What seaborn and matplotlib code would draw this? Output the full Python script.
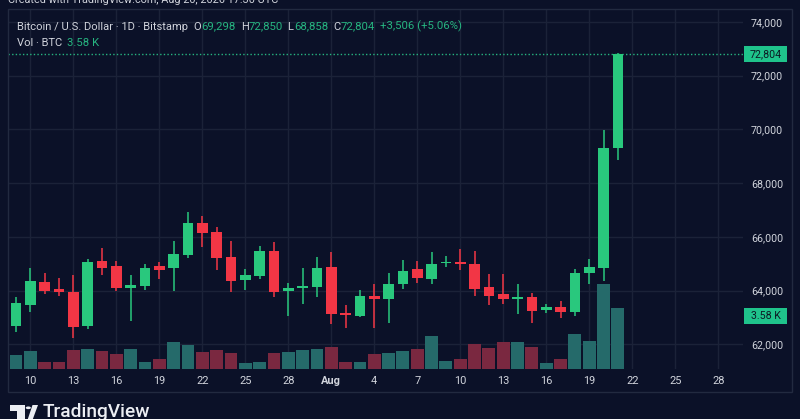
import numpy as np
import pandas as pd
import matplotlib
matplotlib.use("Agg")
import matplotlib.pyplot as plt
import matplotlib.transforms as mtransforms
from matplotlib.patches import Rectangle, Polygon, Circle
import seaborn as sns

# ---------------- data ----------------
opens = [62686, 63479, 64335, 64052, 63963, 62698, 65105, 64908, 64089, 64186,
         64908, 64845, 65328, 66530, 66184, 65243, 64391, 64547, 65488, 63978,
         64089, 64149, 64882, 63181, 63070, 63814, 63702, 64238, 64807, 64447,
         65020, 65068, 64994, 64127, 63877, 63691, 63754, 63293, 63393, 63207,
         64647, 64834, 69298]
highs = [63777, 64833, 64647, 64461, 64584, 65180, 65578, 65105, 64573, 64982,
         65079, 65849, 66917, 66780, 66381, 65861, 64815, 65663, 65801, 64298,
         64833, 65243, 65451, 63457, 64026, 64260, 64647, 65131, 65105, 65440,
         65280, 65540, 65466, 64633, 64633, 64249, 63926, 63494, 63628, 64796,
         65180, 69980, 72850]
lows = [62463, 63219, 63866, 63814, 62229, 62575, 64595, 63978, 62884, 64026,
        64447, 64000, 65217, 65615, 64759, 63940, 64011, 64435, 63766, 63047,
        63494, 63777, 62750, 62623, 63033, 62623, 62809, 64052, 64298, 64249,
        64882, 64759, 63814, 63468, 63505, 63133, 62809, 63170, 62995, 63059,
        64249, 64361, 68858]
closes = [63531, 64361, 64000, 63952, 62660, 65057, 64845, 64089, 64201, 64856,
          64781, 65366, 66530, 66158, 65206, 64361, 64573, 65477, 63940, 64112,
          64175, 64845, 63122, 63085, 63803, 63702, 64238, 64733, 64473, 65005,
          65068, 64982, 64074, 63803, 63691, 63754, 63233, 63382, 63207, 64670,
          64893, 69298, 72804]
volumes_k = [0.82, 1.00, 0.39, 0.39, 1.06, 1.15, 1.03, 0.86, 1.17, 0.37,
             0.53, 1.56, 1.37, 0.97, 1.07, 0.90, 0.35, 0.39, 0.90, 0.94,
             1.06, 1.15, 1.25, 0.39, 0.41, 0.86, 0.90, 1.02, 1.13, 1.90,
             0.45, 0.53, 1.41, 1.23, 1.58, 1.58, 1.25, 0.35, 0.56, 2.05,
             1.62, 4.95, 3.58]
date_tick_labels = ["10", "13", "16", "19", "22", "25", "28", "Aug", "4", "7",
                    "10", "13", "16", "19", "22", "25", "28"]
price_ticks = [62000, 64000, 66000, 68000, 70000, 72000, 74000]

header_title = "Bitcoin / U.S. Dollar · 1D · Bitstamp"
last_change = 3506
last_change_pct = 5.06
created_text = "Created with TradingView.com, Aug 20, 2026 17:30 UTC"

# ---------------- style ----------------
BG = "#0b1128"
GRID = "#1b2238"
FRAME = "#222a40"
TXT = "#d1d4dc"
UP = "#29c87d"
DOWN = "#f23645"
UP_VOL = "#256a6a"
DOWN_VOL = "#7a2840"
HDR_GREEN = "#26b480"
BADGE = "#1fc38b"

sns.set_theme(style="dark", rc={"axes.facecolor": BG, "figure.facecolor": BG})
plt.rcParams["font.family"] = ["Roboto", "DejaVu Sans"]

W, H = 800, 419
fig = plt.figure(figsize=(W / 100, H / 100), dpi=100)
fig.patch.set_facecolor(BG)

def fx(x):
    return x / W

def fy(y):
    return 1 - y / H

ax_l, ax_r, ax_t, ax_b = 8, 743, 9.3, 368.5
rect = [fx(ax_l), fy(ax_b), (ax_r - ax_l) / W, (ax_b - ax_t) / H]
ax = fig.add_axes(rect)
ax_v = fig.add_axes(rect)
ax.set_zorder(1)
ax_v.set_zorder(2)
ax_v.patch.set_visible(False)

n = len(opens)
idx = np.arange(n)
o = np.array(opens); h = np.array(highs); l = np.array(lows); c = np.array(closes)
up = c >= o
cols = np.where(up, UP, DOWN)

xlim = (-0.56, 50.73)
ylim = (61105, 74471)

# grid
tick_pos = np.arange(1, 1 + 3 * len(date_tick_labels), 3)
for yv in price_ticks:
    ax.axhline(yv, color=GRID, lw=1, zorder=0)
for xv in tick_pos:
    ax.axvline(xv, color=GRID, lw=1, zorder=0)

# candles
ax.vlines(idx, l, h, colors=cols, lw=1.1, zorder=3)
body_bottom = np.minimum(o, c)
body_h = np.maximum(np.abs(c - o), 40)
ax.bar(idx, body_h, bottom=body_bottom, width=0.74, color=cols, linewidth=0, zorder=4)

# last price dotted line and badge
last = closes[-1]
ax.axhline(last, color=HDR_GREEN, lw=1, ls=(0, (1, 1.6)), zorder=2)

ax.set_xlim(*xlim)
ax.set_ylim(*ylim)
ax.set_xticks(tick_pos)
ax.set_xticklabels(date_tick_labels)
for lab in ax.get_xticklabels():
    if lab.get_text() == "Aug":
        lab.set_fontweight("bold")
ax.set_yticks(price_ticks)
ax.set_yticklabels([f"{v:,}" for v in price_ticks])
ax.yaxis.tick_right()
ax.tick_params(axis="x", length=0, pad=5.5, labelsize=7.9, labelcolor=TXT)
ax.tick_params(axis="y", length=0, pad=5.8, labelsize=7.7, labelcolor=TXT)
for s in ax.spines.values():
    s.set_visible(False)
ax.grid(False)

# price badge (outside axes, right)
axw = ax_r - ax_l
bx0 = (744 - ax_l) / axw
bw = 43 / axw
trans_p = mtransforms.blended_transform_factory(ax.transAxes, ax.transData)
ppu = (ylim[1] - ylim[0]) / (ax_b - ax_t)  # price units per pixel
ax.add_patch(Rectangle((bx0, last - 7.8 * ppu), bw, 15.6 * ppu, transform=trans_p,
                       facecolor=BADGE, edgecolor="none", clip_on=False, zorder=5))
ax.text(bx0 + bw / 2, last, f"{last:,}", transform=trans_p, ha="center", va="center",
        fontsize=7.7, color="#0c1a24", clip_on=False, zorder=6)

# volume bars via seaborn
df = pd.DataFrame({"idx": idx, "vol": volumes_k, "dir": np.where(up, "up", "down")})
sns.barplot(data=df, x="idx", y="vol", hue="dir", palette={"up": UP_VOL, "down": DOWN_VOL},
            native_scale=True, dodge=False, width=0.9, errorbar=None, saturation=1,
            linewidth=0, legend=False, ax=ax_v)
vpx = 61 / 3.58  # px per K
ax_v.set_xlim(*xlim)
ax_v.set_ylim(0, (ax_b - ax_t) / vpx)
ax_v.set_axis_off()

# volume badge
last_vol = volumes_k[-1]
vpu = 1 / vpx
trans_v = mtransforms.blended_transform_factory(ax_v.transAxes, ax_v.transData)
ax_v.add_patch(Rectangle((bx0, last_vol - 16.6 * vpu), bw, 16.6 * vpu, transform=trans_v,
                         facecolor=BADGE, edgecolor="none", clip_on=False, zorder=5))
ax_v.text(bx0 + bw / 2, last_vol - 8.3 * vpu, f"{last_vol:.2f} K", transform=trans_v,
          ha="center", va="center", fontsize=7.7, color="#0c1a24", clip_on=False, zorder=6)

# outer frame
fig.patches.append(Rectangle((fx(8), fy(392)), 784 / W, (392 - 9.3) / H,
                             transform=fig.transFigure, fill=False, edgecolor=FRAME, lw=1))

# header
hs = 8.0
vs = 8.2
y1 = fy(26.7)
fig.text(fx(16.7), y1, header_title, color=TXT, fontsize=hs, va="center")
pieces = [("O", 193.3, TXT, hs), (f"{opens[-1]:,}", 201.5, HDR_GREEN, vs),
          ("H", 240.7, TXT, hs), (f"{highs[-1]:,}", 249, HDR_GREEN, vs),
          ("L", 287.5, TXT, hs), (f"{lows[-1]:,}", 294, HDR_GREEN, vs),
          ("C", 333.3, TXT, hs), (f"{closes[-1]:,}", 341, HDR_GREEN, vs),
          (f"+{last_change:,} (+{last_change_pct:.2f}%)", 380, HDR_GREEN, vs)]
for t, x, col, fs in pieces:
    fig.text(fx(x), y1, t, color=col, fontsize=fs, va="center")
y2 = fy(43.3)
fig.text(fx(16.7), y2, "Vol · BTC", color=TXT, fontsize=hs, va="center")
fig.text(fx(66.7), y2, f"{volumes_k[-1]:.2f} K", color=HDR_GREEN, fontsize=vs, va="center")

# top "created" text (cut off by the figure edge)
fig.text(fx(8), fy(3.3), created_text, color=TXT, fontsize=7.8, va="baseline")

# bottom logo
LOGO = "#eceef3"
fig.patches.append(Rectangle((fx(10), fy(410.7)), 15 / W, 5.7 / H, transform=fig.transFigure,
                             facecolor=LOGO, edgecolor="none"))
fig.patches.append(Rectangle((fx(17.3), fy(420)), 7.7 / W, 15 / H, transform=fig.transFigure,
                             facecolor=LOGO, edgecolor="none"))
fig.patches.append(Circle((fx(28.3), fy(407.8)), 2.6 / W, transform=fig.transFigure,
                          facecolor=LOGO, edgecolor="none"))
fig.patches.append(Polygon([(fx(32.5), fy(405)), (fx(38), fy(405)), (fx(32.5), fy(420)),
                            (fx(27.5), fy(420))], closed=True, transform=fig.transFigure,
                           facecolor=LOGO, edgecolor="none"))
fig.text(fx(43), fy(412), "TradingView", color=LOGO, fontsize=13.8, fontweight="medium",
         va="center", ha="left")

fig.savefig("out.png", dpi=100, facecolor=BG)
